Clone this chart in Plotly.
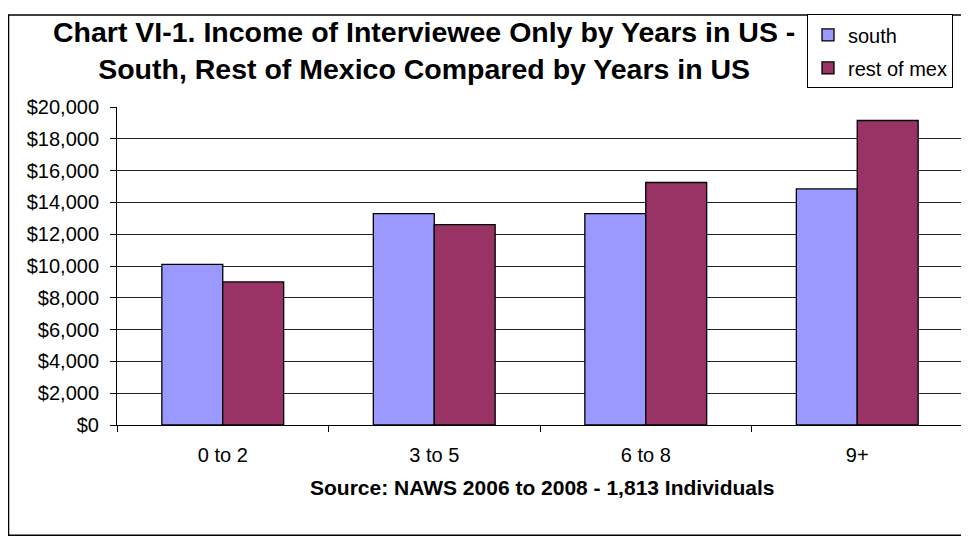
import plotly.graph_objects as go

years = ['0 to 2', '3 to 5', '6 to 8', '9+']
south = [10100, 13300, 13300, 14850]
rest_of_mex = [9000, 12600, 15250, 19150]

FONT = 'Liberation Sans, Arial, sans-serif'

# page has an 8px body margin, so the figure is 8px smaller and offset
PW, PH = 846, 323          # plot area size in px
X0, Y0 = 117, 425          # plot area left / bottom in window px


def px(wx):
    return (wx - X0) / PW


def py(wy):
    return (Y0 - wy) / PH


fig = go.Figure()
fig.add_trace(go.Bar(x=years, y=south, name='south', legendgroup='a',
                     marker=dict(color='#9999FF', line=dict(color='black', width=1.3))))
fig.add_trace(go.Bar(x=years, y=rest_of_mex, name='rest of mex', legendgroup='b',
                     marker=dict(color='#993366', line=dict(color='black', width=1.3))))

fig.update_layout(
    width=961, height=532,
    margin=dict(l=109, r=6, t=94, b=115),
    paper_bgcolor='white', plot_bgcolor='white',
    font=dict(family=FONT, size=20, color='black'),
    barmode='group', bargap=0.424, bargroupgap=0,
    legend=dict(x=px(953), xanchor='right', y=py(8), yanchor='top',
                bgcolor='white', bordercolor='black', borderwidth=1,
                font=dict(size=20), tracegroupgap=4, traceorder='grouped'),
    showlegend=True,
)

fig.update_yaxes(range=[0, 20000], dtick=2000, tickprefix='$', tickformat=',',
                 showgrid=True, gridcolor='#222', gridwidth=1,
                 showline=True, linecolor='black', linewidth=1,
                 ticks='outside', ticklen=6, tickcolor='black', zeroline=False,
                 ticklabelstandoff=7)
fig.update_xaxes(showline=True, linecolor='black', linewidth=1,
                 ticks='outside', ticklen=6, tickcolor='black',
                 tickson='boundaries', showgrid=False, ticklabelstandoff=12)

fig.add_annotation(text='<b>Chart VI-1. Income of Interviewee Only by Years in US -<br>'
                        'South, Rest of Mexico Compared by Years in US</b>',
                   xref='paper', yref='paper', x=px(424), y=py(45),
                   xanchor='center', yanchor='middle',
                   showarrow=False, font=dict(size=28.5))

fig.add_annotation(text='<b>Source: NAWS 2006 to 2008 - 1,813 Individuals</b>',
                   xref='paper', yref='paper', x=px(542), y=py(488),
                   xanchor='center', yanchor='middle',
                   showarrow=False, font=dict(size=21))

# outer chart frame
fig.add_shape(type='rect', xref='paper', yref='paper',
              x0=px(8.5), x1=px(962), y0=py(537), y1=py(8.5),
              line=dict(color='black', width=1.5), layer='below')

fig.write_html('out.html')
